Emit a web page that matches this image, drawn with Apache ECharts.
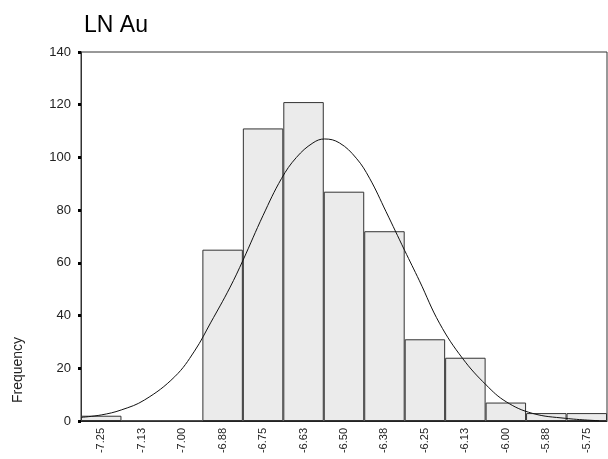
<!DOCTYPE html>
<html>
<head>
<meta charset="utf-8">
<script src="https://cdn.jsdelivr.net/npm/echarts@6/dist/echarts.min.js"></script>
<style>
  html, body { margin: 0; padding: 0; background: #fff; }
  #chart { width: 608px; height: 459px; }
</style>
</head>
<body>
<div id="chart"></div>
<script>
// bin labels (bin width 0.125)
const binLabels = ['-7.25', '-7.13', '-7.00', '-6.88', '-6.75', '-6.63', '-6.50',
  '-6.38', '-6.25', '-6.13', '-6.00', '-5.88', '-5.75']
const counts = [2, 0, 0, 65, 111, 121, 87, 72, 31, 24, 7, 3, 3]

// fitted normal curve
const curveX = [-7.311, -7.250, -7.188, -7.116, -7.023, -6.962, -6.911, -6.853, -6.812,
  -6.750, -6.693, -6.647, -6.596, -6.560, -6.514, -6.462, -6.421, -6.370, -6.313,
  -6.267, -6.205, -6.134, -6.061, -5.999, -5.918, -5.815, -5.712]
const curveY = [1.4, 2.3, 4.2, 8.0, 16.8, 26.5, 37.5, 50.5, 61, 78, 92, 100, 105.5, 107,
  105.5, 99.7, 92.1, 79.4, 64.8, 53.2, 37.1, 23.8, 13.7, 7.3, 2.9, 1.0, 0.1]

const yTicks = [0, 140, 20]  // min, max, step

var chart = echarts.init(document.getElementById('chart'))
var font = "'Liberation Sans', Arial, sans-serif"
var option = {
  animation: false,
  title: {
    text: 'LN Au',
    left: 79,
    top: 9,
    textStyle: { fontFamily: font, fontSize: 23, fontWeight: 'normal', color: '#000' }
  },
  grid: {
    left: 81, top: 52, right: 1, bottom: 38,
    show: true, borderColor: '#333', borderWidth: 1
  },
  graphic: [{
    type: 'text',
    x: 18, y: 370,
    rotation: Math.PI / 2,
    style: {
      text: 'Frequency',
      font: '14px ' + font,
      fill: '#222',
      textAlign: 'center',
      textVerticalAlign: 'middle'
    }
  }],
  xAxis: [
    {
      type: 'category',
      data: binLabels,
      axisLine: { lineStyle: { color: '#222', width: 1 } },
      axisTick: { alignWithLabel: true, interval: 0, length: 3, lineStyle: { color: '#000', width: 4 } },
      axisLabel: { rotate: 90, interval: 0, margin: 7, fontFamily: font, fontSize: 11, color: '#222' },
      splitLine: { show: false }
    },
    {
      type: 'value',
      min: -7.3125,
      max: -5.6875,
      show: false
    }
  ],
  yAxis: {
    type: 'value',
    min: yTicks[0],
    max: yTicks[1],
    interval: yTicks[2],
    axisLine: { show: true, lineStyle: { color: '#333', width: 1 } },
    axisTick: { show: true, length: 3, lineStyle: { color: '#000', width: 3 } },
    axisLabel: { margin: 10, fontFamily: font, fontSize: 13, color: '#222' },
    splitLine: { show: false }
  },
  series: [
    {
      type: 'bar',
      data: counts,
      barCategoryGap: '0%',
      itemStyle: { color: '#ebebeb', borderColor: '#333', borderWidth: 1 }
    },
    {
      type: 'line',
      xAxisIndex: 1,
      data: curveX.map((x, i) => [x, curveY[i]]),
      smooth: 0.4,
      symbol: 'none',
      lineStyle: { color: '#111', width: 1 }
    }
  ]
}
chart.setOption(option)
</script>
</body>
</html>
